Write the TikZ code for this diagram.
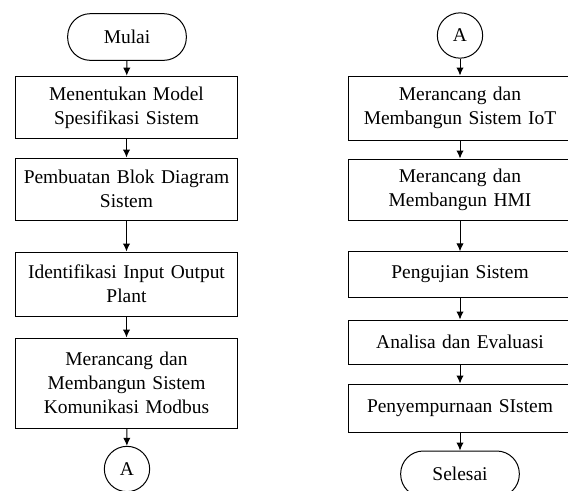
\documentclass[tikz,border=0pt]{standalone}
\usepackage{fontspec}
\setmainfont{Liberation Serif}
\usetikzlibrary{arrows.meta}

\begin{document}
\begin{tikzpicture}[x=0.75pt,y=-0.75pt,>={Latex[length=6pt,width=5.5pt]},line width=0.75pt,
  every node/.style={font=\fontsize{14.6}{18}\selectfont},
  proses/.style={draw,rectangle,text width=163pt,align=center,inner xsep=2pt,inner ysep=2pt},
  terminal/.style={draw,rectangle,rounded corners=17pt,minimum width=89pt,minimum height=35pt},
  konektor/.style={draw,circle,minimum size=34pt,inner sep=0pt}]
\useasboundingbox (0,0) rectangle (568,490);
\clip (0,0) rectangle (568,490);

% kolom kiri
\node[terminal] (mulai) at (127,37) {Mulai};
\node[proses,minimum height=47pt] (b1) at (126.5,107.5) {Menentukan Model\\Spesifikasi Sistem};
\node[proses,minimum height=46.5pt] (b2) at (126.5,189) {Pembuatan Blok Diagram\\Sistem};
\node[proses,minimum height=48pt] (b3) at (126.5,284) {Identifikasi Input Output\\Plant};
\node[proses,minimum height=67.5pt] (b4) at (126.5,383) {Merancang dan\\Membangun Sistem\\Komunikasi Modbus};
\node[konektor] (a1) at (127,469) {A};

% kolom kanan
\node[konektor] (a2) at (460,35.5) {A};
\node[proses,minimum height=48pt] (r1) at (460,108) {Merancang dan\\Membangun Sistem IoT};
\node[proses,minimum height=45.75pt] (r2) at (460,189.5) {Merancang dan\\Membangun HMI};
\node[proses,minimum height=34pt] (r3) at (460,274.5) {Pengujian Sistem};
\node[proses,minimum height=33pt] (r4) at (460,342) {Analisa dan Evaluasi};
\node[proses,minimum height=36pt] (r5) at (460,408) {Penyempurnaan SIstem};
\node[terminal,minimum height=34.5pt] (selesai) at (460,474) {Selesai};

\draw[->] (mulai) -- (b1);
\draw[->] (b1) -- (b2);
\draw[->] (b2) -- (b3);
\draw[->] (b3) -- (b4);
\draw[->] (b4) -- (a1);

\draw[->] (a2) -- (r1);
\draw[->] (r1) -- (r2);
\draw[->] (r2) -- (r3);
\draw[->] (r3) -- (r4);
\draw[->] (r4) -- (r5);
\draw[->] (r5) -- (selesai);
\end{tikzpicture}
\end{document}
